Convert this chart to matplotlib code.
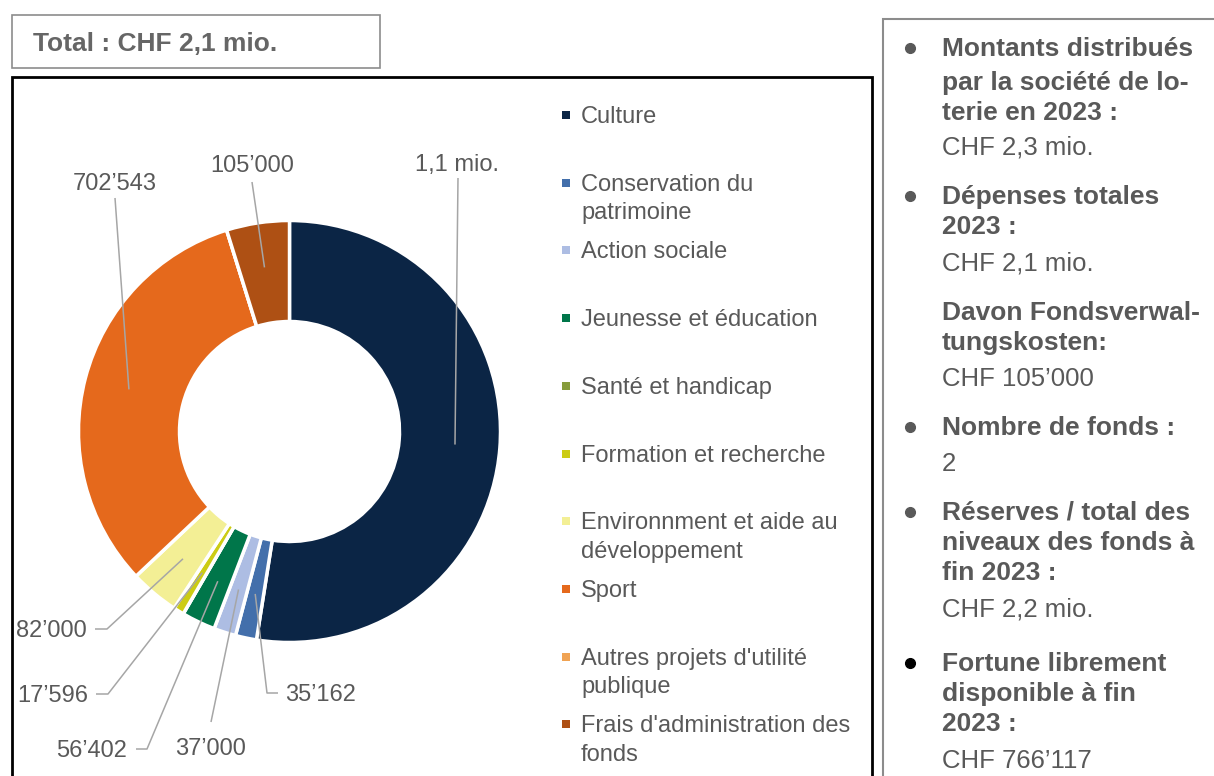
import matplotlib.pyplot as plt
from matplotlib.patches import Rectangle
import numpy as np

plt.rcParams['font.family'] = ['Liberation Sans', 'DejaVu Sans']

W, H = 1214, 776
GREY = '#595959'

# data
categories = ['Culture', 'Conservation du\npatrimoine', 'Action sociale',
              'Jeunesse et éducation', 'Santé et handicap',
              'Formation et recherche', 'Environnment et aide au\ndéveloppement',
              'Sport', "Autres projets d'utilité\npublique",
              "Frais d'administration des\nfonds"]
amounts = [1145000, 35162, 37000, 56402, 0, 17596, 82000, 702543, 0, 105000]
value_labels = ['1,1 mio.', '35’162', '37’000', '56’402', '', '17’596',
                '82’000', '702’543', '', '105’000']
colors = ['#0b2545', '#436fab', '#adbde3', '#00764a', '#879c3c',
          '#cccc14', '#f3ef95', '#e5691c', '#f0a353', '#ae5014']

title = 'Total : CHF 2,1 mio.'

panel_lines = [
    ('Montants distribués', True, 48),
    ('par la société de lo-', True, 82),
    ('terie en 2023 :', True, 112),
    ('CHF 2,3 mio.', False, 147),
    ('Dépenses totales', True, 196),
    ('2023 :', True, 226),
    ('CHF 2,1 mio.', False, 263),
    ('Davon Fondsverwal-', True, 312),
    ('tungskosten:', True, 342),
    ('CHF 105’000', False, 378),
    ('Nombre de fonds :', True, 427),
    ('2', False, 463),
    ('Réserves / total des', True, 512),
    ('niveaux des fonds à', True, 542),
    ('fin 2023 :', True, 572),
    ('CHF 2,2 mio.', False, 609),
    ('Fortune librement', True, 663),
    ('disponible à fin', True, 693),
    ('2023 :', True, 723),
    ('CHF 766’117', False, 760),
]
bullet_rows = [48, 196, 427, 512, 663]
bullet_colors = [GREY, GREY, GREY, GREY, 'black']

# label layout in image pixels: text x, y, alignment, leader start points
label_layout = {
    0: (457, 163, 'center', [(458, 178)]),
    1: (285, 693, 'left', [(278, 693), (267, 693)]),
    2: (211, 747, 'center', [(211, 722)]),
    3: (127, 749, 'right', [(136, 749), (147, 749)]),
    5: (88, 694, 'right', [(96, 694), (108, 694)]),
    6: (87, 629, 'right', [(95, 629), (107, 629)]),
    7: (115, 182, 'center', [(115, 198)]),
    9: (252, 164, 'center', [(252, 182)]),
}


def Y(y):
    return H - y


fig = plt.figure(figsize=(W / 100, H / 100), dpi=100)
ax = fig.add_axes([0, 0, 1, 1])

cx, cy, r_out, r_in = 289.5, Y(431.5), 211, 110
wedges, _ = ax.pie(amounts, colors=colors, startangle=90, counterclock=False,
                   radius=r_out, center=(cx, cy),
                   wedgeprops=dict(width=r_out - r_in, edgecolor='white',
                                   linewidth=2.5))
ax.set_xlim(0, W)
ax.set_ylim(0, H)
ax.set_aspect('auto')
ax.axis('off')

# data labels with leader lines
for i, (tx, ty, ha, pts) in label_layout.items():
    w = wedges[i]
    mid = np.deg2rad((w.theta1 + w.theta2) / 2)
    px, py = cx + 166 * np.cos(mid), cy + 166 * np.sin(mid)
    xs = [p[0] for p in pts] + [px]
    ys = [Y(p[1]) for p in pts] + [py]
    ax.plot(xs, ys, color='#a6a6a6', lw=1.1, solid_capstyle='butt')
    ax.text(tx, Y(ty + 2), value_labels[i], ha=ha, va='center', fontsize=17,
            color=GREY)

# legend
for i, (lab, col) in enumerate(zip(categories, colors)):
    y = 115 + 67.7 * i
    ax.add_patch(Rectangle((562, Y(y) - 4), 8, 8, facecolor=col,
                           edgecolor='none'))
    ax.text(581, Y(y) + 9, lab, ha='left', va='top', fontsize=17,
            color=GREY, linespacing=1.38)

# frames
ax.add_patch(Rectangle((12, Y(68)), 368, 53, fill=False, edgecolor='#8c8c8c',
                       lw=1.2))
ax.text(33, Y(44), title, ha='left', va='center', fontsize=19,
        fontweight='bold', color='#666666')
ax.add_patch(Rectangle((12, Y(800)), 860, 723, fill=False, edgecolor='black',
                       lw=2))
ax.add_patch(Rectangle((883, Y(800)), 400, 781, fill=False, edgecolor='#8c8c8c',
                       lw=1.5))

# side panel
for txt, bold, y in panel_lines:
    ax.text(942, Y(y + 1), txt, ha='left', va='center',
            fontsize=19 if bold else 18.5,
            fontweight='bold' if bold else 'normal', color=GREY)
for y, c in zip(bullet_rows, bullet_colors):
    ax.plot(910, Y(y), 'o', color=c, markersize=7)

fig.savefig('out.png', dpi=100)
